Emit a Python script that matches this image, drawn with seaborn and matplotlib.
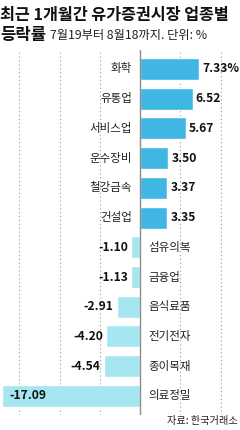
import numpy as np
import matplotlib
matplotlib.use("Agg")
import matplotlib.pyplot as plt
import pandas as pd
import seaborn as sns

sectors = ["화학", "유통업", "서비스업", "운수장비", "철강금속", "건설업",
           "섬유의복", "금융업", "음식료품", "전기전자", "종이목재", "의료정밀"]
values = [7.33, 6.52, 5.67, 3.50, 3.37, 3.35,
          -1.10, -1.13, -2.91, -4.20, -4.54, -17.09]
value_labels = ["7.33%", "6.52", "5.67", "3.50", "3.37", "3.35",
                "-1.10", "-1.13", "-2.91", "-4.20", "-4.54", "-17.09"]

sns.set_style("white")
plt.rcParams['font.family'] = ['Noto Sans CJK KR', 'DejaVu Sans']

df = pd.DataFrame({"sector": sectors, "value": values})
pos_color = "#3fb6e4"
neg_color = "#a6e6f0"
colors = [pos_color if v > 0 else neg_color for v in values]

fig = plt.figure(figsize=(2.4, 4.3), dpi=100)
ax = fig.add_axes([0, 0.035, 1, 0.849])

sns.barplot(data=df, x="value", y="sector", hue="sector", palette=colors,
            orient="h", width=0.74, dodge=False, legend=False, ax=ax,
            saturation=1)

ax.set_xlim(-17.4, 12.4)
ax.set_ylim(11.64, -0.64)

# grid
for g in [-15, -10, -5, 5, 10]:
    ax.axvline(g, color="#9a9a9a", lw=0.8, ls=(0, (1, 2.5)), zorder=0)
ax.axvline(0, color="#8c8c8c", lw=1.0, zorder=3)

for i, (s, v, lab) in enumerate(zip(sectors, values, value_labels)):
    if v > 0:
        ax.text(-1.0, i, s, ha="right", va="center", fontsize=8.3, color="#222222")
        ax.text(v + 0.4, i, lab, ha="left", va="center", fontsize=8.7,
                fontweight="bold", color="#111111")
    else:
        ax.text(1.0, i, s, ha="left", va="center", fontsize=8.3, color="#222222")
        if v < -15:
            ax.text(v + 0.85, i, lab, ha="left", va="center", fontsize=8.7,
                    fontweight="bold", color="#111111")
        else:
            ax.text(v - 0.4, i, lab, ha="right", va="center", fontsize=8.7,
                    fontweight="bold", color="#111111")

ax.set_xlabel("")
ax.set_ylabel("")
ax.set_xticks([])
ax.set_yticks([])
for sp in ax.spines.values():
    sp.set_visible(False)
ax.patch.set_alpha(0)

fig.text(0.0, 0.966, "최근 1개월간 유가증권시장 업종별", ha="left", va="center",
         fontsize=11.7, fontweight="bold", color="#111111")
fig.text(0.0, 0.919, "등락률", ha="left", va="center",
         fontsize=12, fontweight="bold", color="#111111")
fig.text(0.21, 0.917, "7월19부터 8월18까지. 단위: %", ha="left", va="center",
         fontsize=8.8, color="#222222")
fig.text(0.99, 0.021, "자료: 한국거래소", ha="right", va="center",
         fontsize=7.3, color="#222222")

fig.savefig("out.png", dpi=100)
